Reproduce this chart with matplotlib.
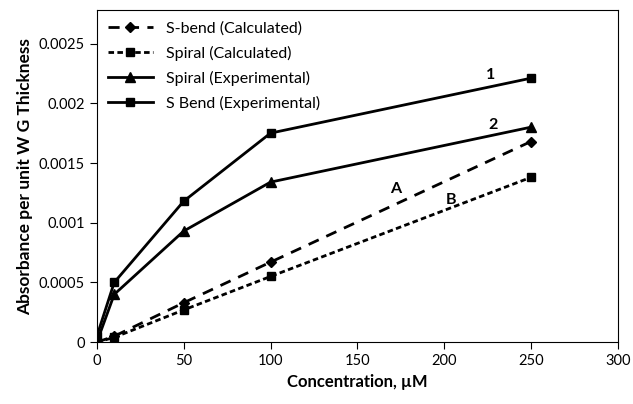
import matplotlib.pyplot as plt

# concentration (uM)
conc = [0, 10, 50, 100, 250]

sbend_calc = [0, 0.00005, 0.00033, 0.00067, 0.00168]
spiral_calc = [0, 0.00004, 0.00027, 0.00055, 0.00138]
spiral_exp = [0, 0.00040, 0.00093, 0.00134, 0.00180]
sbend_exp = [0.00005, 0.00050, 0.00118, 0.00175, 0.00221]

plt.rcParams['font.family'] = ['Lato', 'DejaVu Sans']

fig = plt.figure(figsize=(6.33, 4.04), dpi=100)
ax = fig.add_axes([0.153, 0.153, 0.823, 0.822])

ax.plot(conc, sbend_calc, color='black', lw=2, ls=(0, (4, 3)), marker='D', ms=5,
        label='S-bend (Calculated)')
ax.plot(conc, spiral_calc, color='black', lw=2, ls=(0, (2, 1.2)), marker='s', ms=6,
        label='Spiral (Calculated)')
ax.plot(conc, spiral_exp, color='black', lw=2, ls='-', marker='^', ms=7,
        label='Spiral (Experimental)')
ax.plot(conc, sbend_exp, color='black', lw=2, ls='-', marker='s', ms=6,
        label='S Bend (Experimental)')

# curve labels
for txt, x, y in [('1', 227, 0.00224), ('2', 228, 0.00182),
                  ('A', 172, 0.00128), ('B', 204, 0.00119)]:
    ax.text(x, y, txt, fontsize=11.5, fontweight='bold', ha='center', va='center')

ax.set_xlim(0, 300)
ax.set_ylim(0, 0.00278)
ax.set_xticks([0, 50, 100, 150, 200, 250, 300])
ax.set_yticks([0, 0.0005, 0.001, 0.0015, 0.002, 0.0025])
ax.set_yticklabels(['0', '0.0005', '0.001', '0.0015', '0.002', '0.0025'])
ax.tick_params(direction='out', length=5, labelsize=10.5)

ax.set_xlabel('Concentration, µM', fontsize=12, fontweight='bold')
ax.set_ylabel('Absorbance per unit W G Thickness', fontsize=12.5, fontweight='bold')

ax.legend(loc='upper left', frameon=False, fontsize=11.5, handlelength=2.8,
          borderaxespad=0.3, labelspacing=0.62)

fig.savefig('out.png', dpi=100)
